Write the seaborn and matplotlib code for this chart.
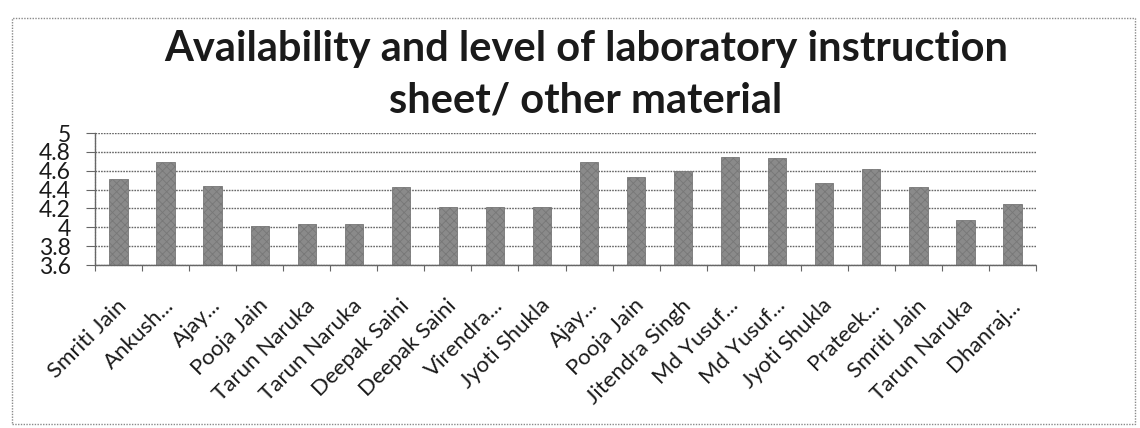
import matplotlib
matplotlib.use("Agg")
import matplotlib.pyplot as plt
from matplotlib.patches import Rectangle
from matplotlib.ticker import FixedLocator
from matplotlib.transforms import ScaledTranslation
import numpy as np
import pandas as pd
import seaborn as sns

# Mean rating per faculty entry
teachers = [
    "Smriti Jain", "Ankush...", "Ajay...", "Pooja Jain", "Tarun Naruka",
    "Tarun Naruka", "Deepak Saini", "Deepak Saini", "Virendra...", "Jyoti Shukla",
    "Ajay...", "Pooja Jain", "Jitendra Singh", "Md Yusuf...", "Md Yusuf...",
    "Jyoti Shukla", "Prateek...", "Smriti Jain", "Tarun Naruka", "Dhanraj...",
]
ratings = [
    4.51, 4.69, 4.44, 4.01, 4.03,
    4.04, 4.43, 4.22, 4.21, 4.21,
    4.69, 4.53, 4.60, 4.75, 4.74,
    4.47, 4.62, 4.43, 4.08, 4.25,
]
y_ticks = [3.6, 3.8, 4.0, 4.2, 4.4, 4.6, 4.8, 5.0]
y_tick_labels = ["3.6", "3.8", "4", "4.2", "4.4", "4.6", "4.8", "5"]
title = "Availability and level of laboratory instruction\nsheet/ other material"

sns.set_theme(style="white")
plt.rcParams["font.family"] = ["Lato", "DejaVu Sans"]
plt.rcParams["hatch.color"] = "#6a6a6a"
plt.rcParams["hatch.linewidth"] = 0.6

W, H = 1140, 428
fig = plt.figure(figsize=(W / 100, H / 100), dpi=100)
fig.patch.set_facecolor("white")

# axes placed in pixel terms
left, right, top, bottom = 95, 1036, 133, 265
ax = fig.add_axes([left / W, 1 - bottom / H, (right - left) / W, (bottom - top) / H])

df = pd.DataFrame({"slot": np.arange(len(teachers)), "rating": ratings})
sns.barplot(data=df, x="slot", y="rating", ax=ax, color="#8a8a8a",
            width=0.39, saturation=1, edgecolor="#777777", linewidth=0.6)
for bar in ax.patches:
    bar.set_hatch("xxxx")

ax.set_ylim(3.6, 5.0)
ax.set_xlim(-0.5, len(teachers) - 0.5)
ax.set_yticks(y_ticks, labels=y_tick_labels)
ax.set_xticks(range(len(teachers)), labels=teachers)
ax.xaxis.set_minor_locator(FixedLocator(np.arange(-0.5, len(teachers), 1.0)))

line_col = "#666666"
dots = (0, (1.2, 0.8))
ax.yaxis.grid(True, color=line_col, linewidth=1.0, linestyle=dots)
ax.set_axisbelow(True)
for side in ["top", "right"]:
    ax.spines[side].set_visible(False)
for side in ["left", "bottom"]:
    ax.spines[side].set_color(line_col)
    ax.spines[side].set_linewidth(1.0)
    ax.spines[side].set_linestyle(dots)

ax.tick_params(axis="x", which="major", length=0, pad=27, labelsize=16,
               labelcolor="#1a1a1a")
ax.tick_params(axis="x", which="minor", length=4.5, width=0.8, color=line_col,
               direction="out", bottom=True)
ax.tick_params(axis="y", which="major", length=6.5, width=0.8, color=line_col,
               direction="out", left=True, pad=11, labelsize=16.5, labelcolor="#1a1a1a")
nudge = ScaledTranslation(5 / 100, 0, fig.dpi_scale_trans)
for lbl in ax.get_xticklabels():
    lbl.set_rotation(45)
    lbl.set_ha("right")
    lbl.set_va("center")
    lbl.set_rotation_mode("anchor")
    lbl.set_transform(lbl.get_transform() + nudge)
ax.set_xlabel("")
ax.set_ylabel("")

# title across the chart area
fig.text(586 / W, 1 - 75 / H, title, ha="center", va="center", fontsize=30,
         fontweight="bold", color="#1a1a1a", linespacing=1.45)

# chart area frame
fig.patches.append(Rectangle((12 / W, 1 - 424 / H), 1123 / W, 406 / H,
                             transform=fig.transFigure, fill=False,
                             edgecolor="#8a8a8a", linewidth=1.0,
                             linestyle=(0, (1, 1))))

fig.savefig("out.png", dpi=100, facecolor="white")
